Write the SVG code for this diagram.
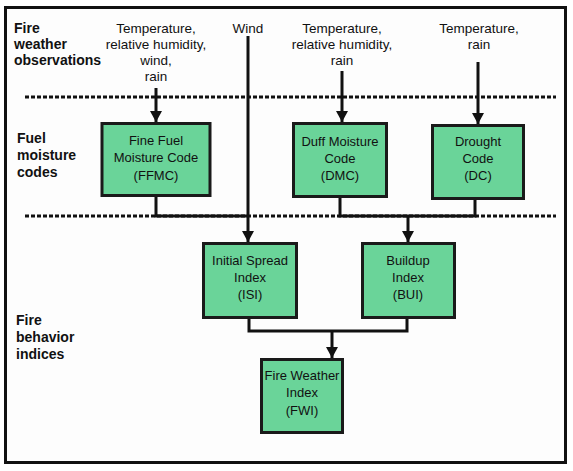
<svg xmlns="http://www.w3.org/2000/svg" width="573" height="471" viewBox="0 0 573 471">
<defs>
<marker id="ah" markerUnits="userSpaceOnUse" markerWidth="12" markerHeight="12" refX="11" refY="6" orient="auto" viewBox="0 0 12 12">
<path d="M0,0 L11,6 L0,12 Z" fill="#111"/>
</marker>
</defs>
<style>
.box{fill:#6ad499;stroke:#1a1a1a;stroke-width:3}
.t{font-family:"Liberation Sans",Arial,sans-serif;font-size:13.5px;fill:#111;text-anchor:middle}
.bt{font-family:"Liberation Sans",Arial,sans-serif;font-size:13px;fill:#111;text-anchor:middle}
.lb{font-family:"Liberation Sans",Arial,sans-serif;font-size:14px;font-weight:bold;fill:#111}
.dot{stroke:#111;stroke-width:3;stroke-dasharray:4 2;fill:none}
.c{stroke:#111;stroke-width:3;fill:none}
.a{stroke:#111;stroke-width:3;fill:none}
</style>
<rect x="0" y="0" width="573" height="471" fill="#fff"/>
<rect x="5.5" y="7.5" width="560" height="455" fill="#fdfdfd" stroke="#111" stroke-width="3"/>
<g id="labels">
<text class="lb" x="14" y="33">Fire</text>
<text class="lb" x="14" y="49">weather</text>
<text class="lb" x="14" y="65">observations</text>
<text class="lb" x="17" y="143">Fuel</text>
<text class="lb" x="17" y="160">moisture</text>
<text class="lb" x="17" y="177">codes</text>
<text class="lb" x="16" y="325">Fire</text>
<text class="lb" x="16" y="342">behavior</text>
<text class="lb" x="16" y="359">indices</text>
</g>
<g id="inputs">
<text class="t" x="156" y="33">Temperature,</text>
<text class="t" x="156" y="49">relative humidity,</text>
<text class="t" x="156" y="65">wind,</text>
<text class="t" x="156" y="81">rain</text>
<text class="t" x="248" y="33">Wind</text>
<text class="t" x="342" y="33">Temperature,</text>
<text class="t" x="342" y="49">relative humidity,</text>
<text class="t" x="342" y="65">rain</text>
<text class="t" x="479" y="33">Temperature,</text>
<text class="t" x="479" y="49">rain</text>
</g>
<g id="separators">
<line class="dot" x1="25" y1="97" x2="556" y2="97"/>
<line class="dot" x1="25" y1="216" x2="556" y2="216"/>
</g>
<g id="connectors">
<line class="a" x1="156" y1="88" x2="156" y2="122" marker-end="url(#ah)"/>
<line class="a" x1="248" y1="36" x2="248" y2="242" marker-end="url(#ah)"/>
<line class="a" x1="342" y1="71" x2="342" y2="122" marker-end="url(#ah)"/>
<line class="a" x1="478" y1="62" x2="478" y2="124" marker-end="url(#ah)"/>
<polyline class="c" points="156,196 156,216 248,216"/>
<polyline class="c" points="340,197 340,216 475,216 475,199"/>
<line class="a" x1="408" y1="216" x2="408" y2="242" marker-end="url(#ah)"/>
<polyline class="c" points="249,318 249,331 407,331 407,318"/>
<line class="a" x1="332" y1="331" x2="332" y2="358" marker-end="url(#ah)"/>
</g>
<g id="ffmc">
<rect class="box" x="102" y="123.5" width="108" height="72"/>
<text class="bt" x="156" y="145">Fine Fuel</text>
<text class="bt" x="156" y="162">Moisture Code</text>
<text class="bt" x="156" y="180">(FFMC)</text>
</g>
<g id="dmc">
<rect class="box" x="293.5" y="123.5" width="93" height="73"/>
<text class="bt" x="340" y="146">Duff Moisture</text>
<text class="bt" x="340" y="163">Code</text>
<text class="bt" x="340" y="180">(DMC)</text>
</g>
<g id="dc">
<rect class="box" x="432.5" y="125.5" width="91" height="73"/>
<text class="bt" x="478" y="146">Drought</text>
<text class="bt" x="478" y="163">Code</text>
<text class="bt" x="478" y="180">(DC)</text>
</g>
<g id="isi">
<rect class="box" x="203.5" y="243.5" width="93" height="74"/>
<text class="bt" x="250" y="265">Initial Spread</text>
<text class="bt" x="250" y="282">Index</text>
<text class="bt" x="250" y="299">(ISI)</text>
</g>
<g id="bui">
<rect class="box" x="362.5" y="243.5" width="92" height="74"/>
<text class="bt" x="408" y="265">Buildup</text>
<text class="bt" x="408" y="282">Index</text>
<text class="bt" x="408" y="299">(BUI)</text>
</g>
<g id="fwi">
<rect class="box" x="261.5" y="359.5" width="81" height="73"/>
<text class="bt" x="302" y="380">Fire Weather</text>
<text class="bt" x="302" y="397">Index</text>
<text class="bt" x="302" y="415">(FWI)</text>
</g>
</svg>
